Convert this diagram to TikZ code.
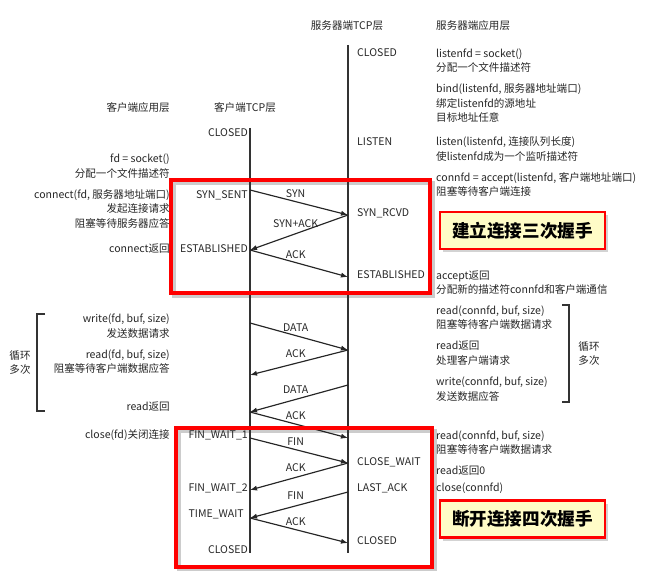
\documentclass[tikz,border=0pt]{standalone}
\usepackage{fontspec}
\setmainfont{Noto Sans CJK SC}
\usepackage{tikz}
\usetikzlibrary{arrows.meta, positioning, shadows}

\begin{document}
\begin{tikzpicture}[x=0.03cm, y=-0.03cm, >={Latex[length=6pt, width=4.5pt]},
    font=\fontsize{9}{12.5}\selectfont,
    t/.style={text=black!85, inner sep=0pt},
    l/.style={t, anchor=east, align=right},
    r/.style={t, anchor=west, align=left},
    life/.style={draw=black!80, line width=1.3pt},
    msg/.style={->, draw=black!85, line width=1pt},
    m/.style={midway, above=4pt, xshift=-0.1cm, t},
    frame/.style={draw=red, line width=2.6pt},
    fshadow/.style={draw=black, opacity=0.2, line width=3.5pt},
    tag/.style={draw=red, line width=1.8pt, fill=yellow!22, minimum width=4.95cm, minimum height=1.11cm,
        font=\fontsize{15}{18}\selectfont\bfseries, drop shadow={opacity=0.35}}
]
    \useasboundingbox (0,0) rectangle (655,571);
    % frame shadows
    \draw[fshadow] (174,183) rectangle (433,296);
    \draw[fshadow] (179,431) rectangle (435,570);

    % headers
    \node[l] (capp) at (170,107) {客户端应用层};
    \node[t] (ctcp) at (245,107) {客户端TCP层};
    \node[t] (stcp) at (347,26) {服务器端TCP层};
    \node[r] (sapp) at (436,26) {服务器端应用层};

    % lifelines
    \coordinate (cT) at (250,128);
    \coordinate (cB) at (250,553);
    \coordinate (sT) at (348,45);
    \coordinate (sB) at (348,553);
    \draw[life] (cT) -- (cB);
    \draw[life] (sT) -- (sB);

    % client states
    \node[l] (cclosed) at (248,133) {CLOSED};
    \node[l] (synsent) at (248,195) {SYN\_SENT};
    \node[l] (cest) at (248,249) {ESTABLISHED};
    \node[l] (fw1) at (248,435) {FIN\_WAIT\_1};
    \node[l] (fw2) at (248,488) {FIN\_WAIT\_2};
    \node[l] (tw) at (244,514) {TIME\_WAIT};
    \node[l] (cclosedb) at (248,550) {CLOSED};

    % server states
    \node[r] (sclosed) at (357,53) {CLOSED};
    \node[r] (listen) at (357,142) {LISTEN};
    \node[r] (synrcvd) at (357,213) {SYN\_RCVD};
    \node[r] (sest) at (357,275) {ESTABLISHED};
    \node[r] (clwait) at (357,462) {CLOSE\_WAIT};
    \node[r] (lastack) at (357,488) {LAST\_ACK};
    \node[r] (sclosedb) at (357,541) {CLOSED};

    % client calls
    \node[l] (csock) at (170,166) {fd = socket()\\分配一个文件描述符};
    \node[l] (cconn) at (170,209) {connect(fd, 服务器地址端口)\\发起连接请求\\阻塞等待服务器应答};
    \node[l] (cconnret) at (170,249) {connect返回};
    \node[l] (cwrite) at (170,326) {write(fd, buf, size)\\发送数据请求};
    \node[l] (cread) at (170,361.5) {read(fd, buf, size)\\阻塞等待客户端数据应答};
    \node[l] (creadret) at (170,407) {read返回};
    \node[l] (cclose) at (170,435) {close(fd)关闭连接};

    % server calls
    \node[r] (ssock) at (436,60.5) {listenfd = socket()\\分配一个文件描述符};
    \node[r] (sbind) at (436,103) {bind(listenfd, 服务器地址端口)\\绑定listenfd的源地址\\目标地址任意};
    \node[r] (slisten) at (436,149) {listen(listenfd, 连接队列长度)\\使listenfd成为一个监听描述符};
    \node[r] (saccept) at (436,184.5) {connfd = accept(listenfd, 客户端地址端口)\\阻塞等待客户端连接};
    \node[r] (sacceptret) at (436,282.5) {accept返回\\分配新的描述符connfd和客户端通信};
    \node[r] (sread) at (436,317.5) {read(connfd, buf, size)\\阻塞等待客户端数据请求};
    \node[r] (sreadret) at (436,353) {read返回\\处理客户端请求};
    \node[r] (swrite) at (436,389) {write(connfd, buf, size)\\发送数据应答};
    \node[r] (sreadb) at (436,442.5) {read(connfd, buf, size)\\阻塞等待客户端数据请求};
    \node[r] (sreadzero) at (436,471) {read返回0};
    \node[r] (sclose) at (436,488) {close(connfd)};

    % loops
    \draw[black!80, line width=1pt] (45,314) -- (37,314) -- (37,411) -- (45,411);
    \node[t, align=center] (cloop) at (20,362.5) {循环\\多次};
    \draw[black!80, line width=1pt] (562,305) -- (569,305) -- (569,402) -- (562,402);
    \node[t, align=center] (sloop) at (589,353.5) {循环\\多次};

    % messages
    \coordinate (c1) at (250,190); \coordinate (s1) at (348,215);
    \coordinate (c2) at (250,250); \coordinate (s2) at (348,277);
    \coordinate (c3) at (250,323); \coordinate (s3) at (348,350);
    \coordinate (c4) at (250,375); \coordinate (s4) at (348,385);
    \coordinate (c5) at (250,412); \coordinate (s5) at (348,438);
    \coordinate (c6) at (250,438); \coordinate (s6) at (348,463);
    \coordinate (c7) at (250,490); \coordinate (s7) at (348,492);
    \coordinate (c8) at (250,518); \coordinate (s8) at (348,543);
    \draw[msg] (c1) -- node[m] {SYN} (s1);
    \draw[msg] (s1) -- node[m] {SYN+ACK} (c2);
    \draw[msg] (c2) -- node[m] {ACK} (s2);
    \draw[msg] (c3) -- node[m] {DATA} (s3);
    \draw[msg] (s3) -- node[m] {ACK} (c4);
    \draw[msg] (s4) -- node[m] {DATA} (c5);
    \draw[msg] (c5) -- node[m] {ACK} (s5);
    \draw[msg] (c6) -- node[m] {FIN} (s6);
    \draw[msg] (s6) -- node[m] {ACK} (c7);
    \draw[msg] (s7) -- node[m] {FIN} (c8);
    \draw[msg] (c8) -- node[m] {ACK} (s8);

    % frames and tags
    \draw[frame] (171,180) rectangle (430,293);
    \draw[frame] (176,428) rectangle (432,567);
    \node[tag] (open) at (522.5,230.5) {建立连接三次握手};
    \node[tag] (close) at (522.5,519) {断开连接四次握手};
\end{tikzpicture}
\end{document}
